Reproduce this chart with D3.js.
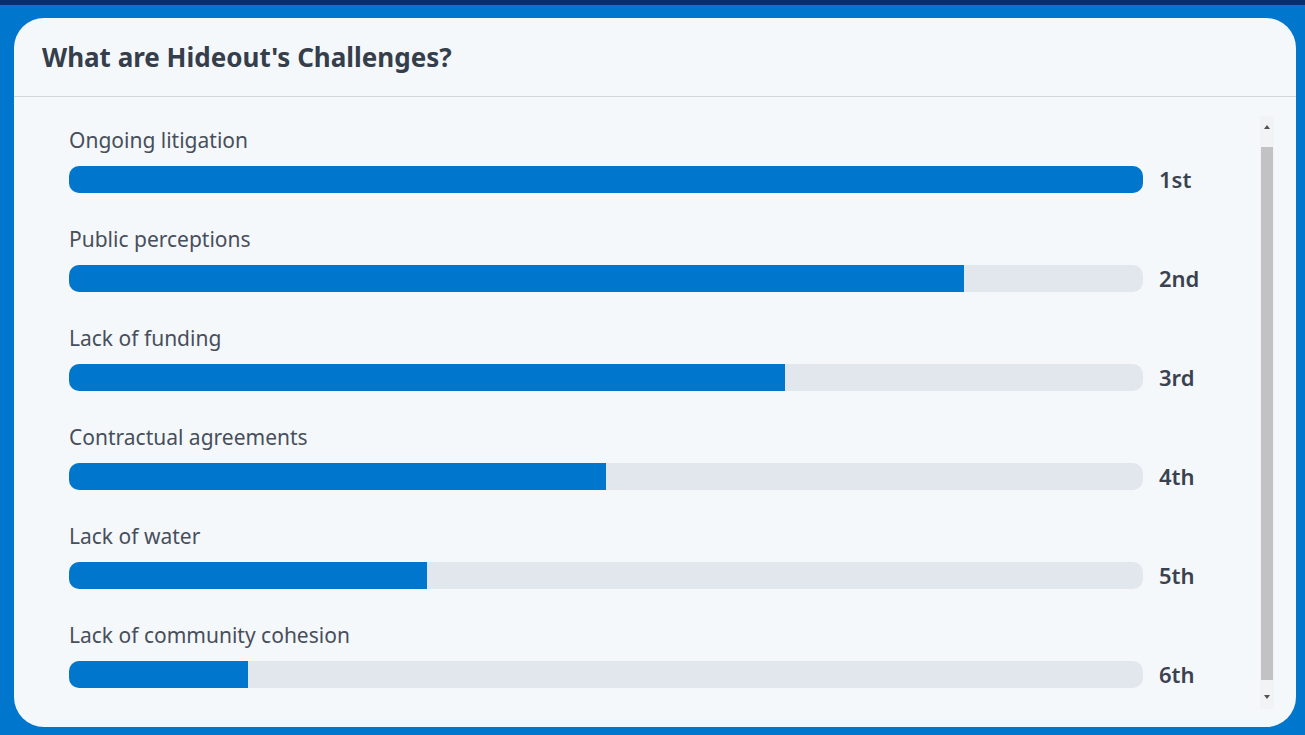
<!DOCTYPE html>
<html>
<head>
<meta charset="utf-8">
<script src="https://cdn.jsdelivr.net/npm/d3@7"></script>
<style>
  html, body { margin: 0; padding: 0; background: #0077cc; }
  svg { display: block; }
</style>
</head>
<body>
<div id="chart"></div>
<script>
// challenge names, ranked top to bottom
const challenges = [
  'Ongoing litigation',
  'Public perceptions',
  'Lack of funding',
  'Contractual agreements',
  'Lack of water',
  'Lack of community cohesion'
];
// rank score (6 = most important)
const scores = [6, 5, 4, 3, 2, 1];
const rankLabels = ['1st', '2nd', '3rd', '4th', '5th', '6th'];

const width = 1305;
const height = 735;
const font = "'Source Sans Pro', 'Noto Sans', 'Open Sans', sans-serif";

const svg = d3.select('#chart')
  .append('svg')
  .attr('width', width)
  .attr('height', height);

// dark strip at top
svg.append('rect')
  .attr('x', 0).attr('y', 0)
  .attr('width', width).attr('height', 5)
  .attr('fill', '#0a2f6e');

// card
svg.append('rect')
  .attr('x', 14).attr('y', 18)
  .attr('width', 1282).attr('height', 709)
  .attr('rx', 30)
  .attr('fill', '#f5f8fb');

svg.append('text')
  .attr('x', 42).attr('y', 67)
  .attr('font-family', font)
  .attr('font-size', 26)
  .attr('font-weight', 700)
  .attr('fill', '#353e4b')
  .text("What are Hideout's Challenges?");

svg.append('line')
  .attr('x1', 14).attr('x2', 1296)
  .attr('y1', 96.5).attr('y2', 96.5)
  .attr('stroke', '#d3d7dc')
  .attr('stroke-width', 1.2);

// scales
const x = d3.scaleLinear()
  .domain([0, d3.max(scores)])
  .range([0, 1074]);

const y = d3.scaleBand()
  .domain(challenges)
  .range([120, 714])
  .paddingInner(0)
  .paddingOuter(0);

const barH = 27;
const left = 69;

const rows = svg.selectAll('.row')
  .data(challenges)
  .enter()
  .append('g')
  .attr('class', 'row')
  .attr('transform', d => `translate(${left},${y(d)})`);

rows.append('text')
  .attr('x', 0).attr('y', 28)
  .attr('font-family', font)
  .attr('font-size', 21)
  .attr('fill', '#474f5b')
  .text(d => d);

// background track
rows.append('rect')
  .attr('x', 0).attr('y', 46)
  .attr('width', x(d3.max(scores)))
  .attr('height', barH)
  .attr('rx', 10)
  .attr('fill', '#e2e7ee');

// clip the filled bar so only the left end is rounded
rows.append('clipPath')
  .attr('id', (d, i) => 'clip' + i)
  .append('rect')
  .attr('x', 0).attr('y', 46)
  .attr('width', (d, i) => x(scores[i]))
  .attr('height', barH);

rows.append('rect')
  .attr('clip-path', (d, i) => `url(#clip${i})`)
  .attr('x', 0).attr('y', 46)
  .attr('width', (d, i) => x(scores[i]) + (scores[i] === d3.max(scores) ? 0 : 20))
  .attr('height', barH)
  .attr('rx', 10)
  .attr('fill', '#0077cc');

rows.append('text')
  .attr('x', x(d3.max(scores)) + 16)
  .attr('y', 68)
  .attr('font-family', font)
  .attr('font-size', 22)
  .attr('font-weight', 600)
  .attr('fill', '#3a4250')
  .text((d, i) => rankLabels[i]);

// scrollbar
svg.append('rect')
  .attr('x', 1260).attr('y', 116)
  .attr('width', 14).attr('height', 593)
  .attr('fill', '#f1f3f5');
svg.append('rect')
  .attr('x', 1261).attr('y', 147)
  .attr('width', 12).attr('height', 533)
  .attr('fill', '#c2c2c4');
svg.append('path')
  .attr('d', 'M1264,129 L1267,125 L1270,129 Z')
  .attr('fill', '#505050');
svg.append('path')
  .attr('d', 'M1264,695 L1267,699 L1270,695 Z')
  .attr('fill', '#505050');
</script>
</body>
</html>
